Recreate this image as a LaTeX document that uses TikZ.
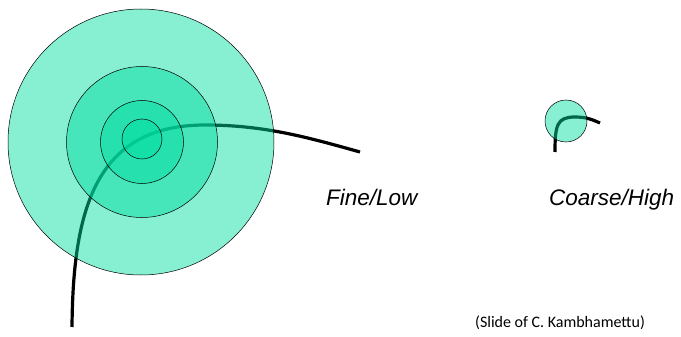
\documentclass[tikz,border=0pt]{standalone}
\usepackage{fontspec}
\newfontfamily\labelfont{Liberation Sans}
\newfontfamily\notefont{Carlito}
\begin{document}
\begin{tikzpicture}[x=1pt,y=-1pt,
  disc/.style={draw=black, line width=0.5pt, fill={rgb,255:red,0;green,220;blue,160}, fill opacity=0.47},
  edgecurve/.style={line width=3.2pt, black},
  lbl/.style={font=\labelfont\itshape\fontsize{22.5}{26}\selectfont, inner sep=0pt}]
\useasboundingbox (0,0) rectangle (681,337);
% curves (under the discs)
\coordinate (a0) at (72,327);
\coordinate (a1) at (205,125);
\coordinate (a2) at (360,152);
\draw[edgecurve] (a0) .. controls (73,210) and (95,125) .. (a1) .. controls (265,125) and (310,138) .. (a2);
\coordinate (b0) at (555,152);
\coordinate (b1) at (575,117);
\coordinate (b2) at (600,123);
\draw[edgecurve] (b0) .. controls (555,125) and (557,117) .. (b1) .. controls (587,117) and (593,120) .. (b2);
% discs
\node[disc, circle, minimum size=266pt, inner sep=0pt] (c1) at (141,142) {};
\node[disc, circle, minimum size=151pt, inner sep=0pt] (c2) at (142,142) {};
\node[disc, circle, minimum size=83pt, inner sep=0pt] (c3) at (142,142) {};
\node[disc, circle, minimum size=40pt, inner sep=0pt] (c4) at (142,139) {};
\node[disc, circle, minimum size=42pt, inner sep=0pt] (s1) at (566,121) {};
% labels
\node[lbl, anchor=base west] (fine) at (326,205) {Fine/Low};
\node[lbl, anchor=base west] (coarse) at (549,205) {Coarse/High};
\node[font=\notefont\fontsize{16}{19}\selectfont, inner sep=0pt, anchor=base west] (note) at (475,327) {(Slide of C. Kambhamettu)};
\end{tikzpicture}
\end{document}
